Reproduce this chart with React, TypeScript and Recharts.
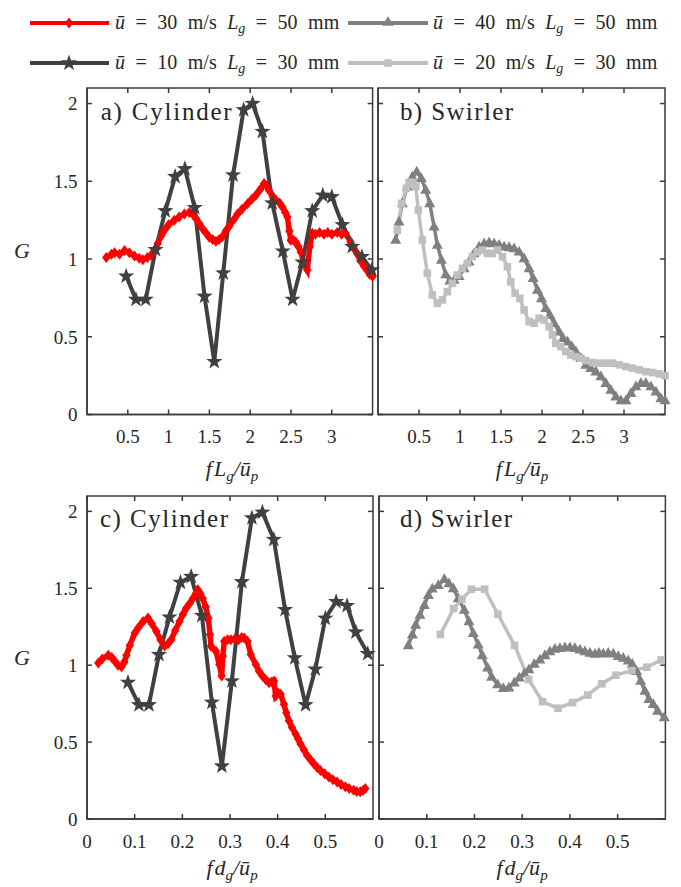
import React from 'react';
import { LineChart, Line, XAxis, YAxis, ReferenceArea, ReferenceLine } from 'recharts';

// ---------- tick labels ----------
const fLTicks = [0.5, 1, 1.5, 2, 2.5, 3];
const fdTicks = [0, 0.1, 0.2, 0.3, 0.4, 0.5];
const gTicks = [0, 0.5, 1, 1.5, 2];

// ---------- series names ----------
const seriesNames = [
  { u: '30', L: '50' },
  { u: '40', L: '50' },
  { u: '10', L: '30' },
  { u: '20', L: '30' },
];

// ---------- a) Cylinder, x = f Lg / up ----------
const redA_x = [0.236, 0.30, 0.337, 0.40, 0.46, 0.52, 0.582, 0.64, 0.684, 0.74, 0.785, 0.83, 0.867, 0.91, 0.948, 1.0, 1.07, 1.13, 1.193, 1.254, 1.30, 1.336, 1.38, 1.417, 1.46, 1.498, 1.54, 1.58, 1.62, 1.662, 1.70, 1.743, 1.80, 1.845, 1.90, 1.967, 2.02, 2.069, 2.12, 2.17, 2.20, 2.232, 2.28, 2.314, 2.36, 2.395, 2.43, 2.456, 2.48, 2.497, 2.53, 2.558, 2.59, 2.62, 2.66, 2.70, 2.73, 2.76, 2.80, 2.85, 2.904, 2.95, 3.0, 3.067, 3.12, 3.17, 3.23, 3.27, 3.31, 3.35, 3.393, 3.43, 3.466, 3.5];
const redA_G = [1.01, 1.03, 1.04, 1.03, 1.055, 1.04, 1.02, 1.005, 0.995, 1.01, 1.025, 1.06, 1.10, 1.15, 1.185, 1.22, 1.25, 1.27, 1.29, 1.30, 1.285, 1.26, 1.225, 1.195, 1.165, 1.14, 1.125, 1.115, 1.125, 1.145, 1.18, 1.21, 1.255, 1.29, 1.32, 1.355, 1.385, 1.41, 1.445, 1.485, 1.47, 1.44, 1.40, 1.38, 1.36, 1.335, 1.30, 1.27, 1.18, 1.12, 1.12, 1.11, 1.08, 1.045, 0.97, 0.93, 1.08, 1.165, 1.16, 1.17, 1.16, 1.17, 1.16, 1.17, 1.16, 1.165, 1.11, 1.07, 1.035, 0.99, 0.955, 0.93, 0.90, 0.89];
const starA_x = [0.48, 0.60, 0.72, 0.84, 0.96, 1.08, 1.20, 1.32, 1.44, 1.56, 1.67, 1.79, 1.92, 2.03, 2.15, 2.27, 2.40, 2.52, 2.64, 2.76, 2.89, 3.00, 3.13, 3.25, 3.37, 3.49];
const starA_G = [0.89, 0.74, 0.74, 1.06, 1.31, 1.53, 1.58, 1.33, 0.76, 0.34, 0.91, 1.54, 1.96, 2.00, 1.82, 1.36, 1.05, 0.74, 0.98, 1.31, 1.41, 1.40, 1.22, 1.08, 1.015, 0.93];

// ---------- b) Swirler, x = f Lg / up ----------
const triB_x = [0.216, 0.256, 0.297, 0.358, 0.419, 0.472, 0.529, 0.582, 0.631, 0.684, 0.724, 0.773, 0.826, 0.875, 0.928, 0.989, 1.05, 1.11, 1.17, 1.233, 1.294, 1.355, 1.416, 1.477, 1.538, 1.599, 1.66, 1.721, 1.782, 1.843, 1.892, 1.945, 1.994, 2.047, 2.095, 2.148, 2.209, 2.258, 2.311, 2.364, 2.413, 2.474, 2.535, 2.596, 2.657, 2.718, 2.779, 2.84, 2.901, 2.962, 3.023, 3.084, 3.145, 3.206, 3.267, 3.328, 3.389, 3.45, 3.5];
const triB_G = [1.122, 1.24, 1.358, 1.465, 1.529, 1.561, 1.518, 1.444, 1.358, 1.208, 1.09, 0.994, 0.90, 0.86, 0.865, 0.89, 0.94, 0.983, 1.036, 1.079, 1.1, 1.107, 1.1, 1.09, 1.079, 1.075, 1.068, 1.047, 1.004, 0.94, 0.876, 0.801, 0.747, 0.683, 0.64, 0.587, 0.533, 0.49, 0.469, 0.437, 0.405, 0.362, 0.319, 0.298, 0.276, 0.244, 0.201, 0.158, 0.115, 0.09, 0.09, 0.137, 0.18, 0.201, 0.201, 0.18, 0.147, 0.104, 0.09];
const sqB_x = [0.236, 0.289, 0.346, 0.379, 0.427, 0.46, 0.492, 0.541, 0.602, 0.663, 0.724, 0.785, 0.846, 0.907, 0.968, 1.03, 1.09, 1.151, 1.212, 1.273, 1.334, 1.395, 1.456, 1.517, 1.578, 1.619, 1.672, 1.729, 1.782, 1.843, 1.904, 1.965, 2.026, 2.087, 2.128, 2.169, 2.23, 2.291, 2.352, 2.413, 2.474, 2.535, 2.616, 2.698, 2.779, 2.86, 2.942, 3.023, 3.104, 3.186, 3.267, 3.348, 3.43, 3.5];
const sqB_G = [1.186, 1.358, 1.454, 1.493, 1.493, 1.465, 1.315, 1.122, 0.908, 0.769, 0.715, 0.737, 0.79, 0.844, 0.897, 0.94, 0.972, 1.015, 1.047, 1.058, 1.036, 1.036, 1.058, 1.015, 0.951, 0.854, 0.78, 0.747, 0.672, 0.597, 0.587, 0.619, 0.608, 0.565, 0.512, 0.458, 0.437, 0.405, 0.383, 0.372, 0.362, 0.347, 0.334, 0.33, 0.33, 0.33, 0.319, 0.308, 0.298, 0.287, 0.276, 0.27, 0.261, 0.25];

// ---------- c) Cylinder, x = f dg / up ----------
const redC_x = [0.0237, 0.032, 0.0445, 0.052, 0.0584, 0.065, 0.0723, 0.0783, 0.0828, 0.09, 0.1002, 0.108, 0.1176, 0.128, 0.136, 0.1454, 0.154, 0.1628, 0.17, 0.1767, 0.185, 0.1941, 0.201, 0.208, 0.215, 0.222, 0.228, 0.2324, 0.238, 0.2428, 0.249, 0.2546, 0.258, 0.2602, 0.2706, 0.2776, 0.2825, 0.285, 0.288, 0.295, 0.3019, 0.31, 0.318, 0.3245, 0.3297, 0.3367, 0.3436, 0.3541, 0.361, 0.368, 0.375, 0.3819, 0.3875, 0.3923, 0.3958, 0.401, 0.4063, 0.4132, 0.418, 0.4237, 0.43, 0.4376, 0.443, 0.448, 0.455, 0.4619, 0.469, 0.4758, 0.4828, 0.4898, 0.4985, 0.5072, 0.516, 0.5246, 0.533, 0.542, 0.55, 0.5594, 0.566, 0.5733, 0.579, 0.5838];
const redC_G = [1.015, 1.04, 1.065, 1.05, 1.026, 1.0, 0.99, 1.02, 1.065, 1.13, 1.21, 1.245, 1.284, 1.306, 1.27, 1.22, 1.165, 1.125, 1.14, 1.166, 1.225, 1.284, 1.33, 1.37, 1.40, 1.434, 1.465, 1.49, 1.465, 1.434, 1.38, 1.306, 1.2, 1.123, 1.09, 1.004, 0.929, 1.06, 1.155, 1.165, 1.166, 1.17, 1.165, 1.18, 1.176, 1.155, 1.069, 1.004, 0.96, 0.929, 0.905, 0.886, 0.89, 0.897, 0.80, 0.82, 0.811, 0.746, 0.69, 0.639, 0.595, 0.553, 0.52, 0.488, 0.45, 0.413, 0.385, 0.359, 0.335, 0.316, 0.295, 0.273, 0.255, 0.241, 0.225, 0.209, 0.198, 0.187, 0.178, 0.177, 0.185, 0.198];
const starC_x = [0.086, 0.109, 0.130, 0.151, 0.173, 0.196, 0.2185, 0.241, 0.262, 0.283, 0.304, 0.325, 0.346, 0.368, 0.392, 0.4155, 0.436, 0.4586, 0.479, 0.500, 0.5226, 0.5456, 0.564, 0.589];
const starC_G = [0.888, 0.742, 0.742, 1.069, 1.312, 1.538, 1.576, 1.323, 0.759, 0.344, 0.897, 1.542, 1.957, 1.994, 1.817, 1.361, 1.047, 0.742, 0.974, 1.305, 1.413, 1.387, 1.215, 1.075];

// ---------- d) Swirler, x = f dg / up ----------
const triD_x = [0.0615, 0.0699, 0.0768, 0.0859, 0.095, 0.1034, 0.1117, 0.1243, 0.1368, 0.1466, 0.1557, 0.1661, 0.1787, 0.1885, 0.1975, 0.208, 0.2164, 0.2276, 0.2359, 0.2485, 0.2604, 0.2722, 0.2834, 0.2939, 0.3043, 0.3141, 0.3253, 0.3371, 0.3476, 0.3581, 0.3686, 0.3791, 0.3895, 0.4, 0.4105, 0.421, 0.4314, 0.4419, 0.4524, 0.4608, 0.4698, 0.4803, 0.4908, 0.5013, 0.5118, 0.5222, 0.5306, 0.5397, 0.5481, 0.5572, 0.5655, 0.5746, 0.5837, 0.5976];
const triD_G = [1.129, 1.198, 1.262, 1.327, 1.39, 1.455, 1.497, 1.52, 1.559, 1.531, 1.499, 1.434, 1.359, 1.284, 1.208, 1.133, 1.064, 0.983, 0.923, 0.875, 0.85, 0.854, 0.886, 0.918, 0.944, 0.972, 1.008, 1.035, 1.064, 1.089, 1.106, 1.11, 1.115, 1.115, 1.11, 1.1, 1.089, 1.079, 1.073, 1.079, 1.075, 1.079, 1.075, 1.058, 1.047, 1.03, 1.008, 0.961, 0.897, 0.832, 0.779, 0.746, 0.703, 0.66];
const sqD_x = [0.1285, 0.1564, 0.1738, 0.1934, 0.2213, 0.2492, 0.2841, 0.3134, 0.3427, 0.3748, 0.4055, 0.4376, 0.4669, 0.4962, 0.5297, 0.5611, 0.591];
const sqD_G = [1.2, 1.368, 1.43, 1.494, 1.494, 1.331, 1.129, 0.907, 0.763, 0.72, 0.757, 0.806, 0.879, 0.935, 0.965, 0.987, 1.034];

// ---------- styles ----------
const AX = '#3a3a3a';
const TXT = '#262626';
const FONT = '"Liberation Serif", "Times New Roman", serif';
const RED = '#ff0000';
const MID = '#808080';
const DARK = '#404040';
const LIGHT = '#bfbfbf';
const G_MAX = 2.1;

const zip = (xs: number[], gs: number[]) => xs.map((x, i) => ({ x, G: gs[i] }));

const Diamond = ({ cx, cy }: any) => (
  <path d={`M${cx},${cy - 5.5}L${cx + 4.2},${cy}L${cx},${cy + 5.5}L${cx - 4.2},${cy}Z`} fill={RED} />
);
const Star = ({ cx, cy, size = 8.5 }: any) => {
  const pts: string[] = [];
  for (let k = 0; k < 10; k++) {
    const r = k % 2 === 0 ? size : size * 0.4;
    const a = -Math.PI / 2 + (k * Math.PI) / 5;
    pts.push(`${cx + r * Math.cos(a)},${cy + r * Math.sin(a)}`);
  }
  return <polygon points={pts.join(' ')} fill={DARK} />;
};
const Tri = ({ cx, cy }: any) => (
  <path d={`M${cx},${cy - 6}L${cx + 5.5},${cy + 3.8}L${cx - 5.5},${cy + 3.8}Z`} fill={MID} />
);
const Sq = ({ cx, cy }: any) => <rect x={cx - 3.8} y={cy - 3.8} width={7.6} height={7.6} fill={LIGHT} />;

const dotFn = (Comp: any, tag: string) => (p: any) => <Comp key={`${tag}${p.index}`} cx={p.cx} cy={p.cy} />;

type SeriesDef = { data: { x: number; G: number }[]; color: string; width: number; marker: any; tag: string };

function Panel({ left, top, w, h, xDomain, xTicks, showY, series }: {
  left: number; top: number; w: number; h: number; xDomain: [number, number]; xTicks: number[]; showY: boolean; series: SeriesDef[];
}) {
  const ML = 60, MB = 45, MT = 8, MR = 8;
  const tickStyle = { fontSize: 19, fill: TXT, fontFamily: FONT };
  const xMax = xDomain[1];
  const tickPx = 5;
  const dyTick = (tickPx * G_MAX) / h;
  const dxTick = (tickPx * (xMax - xDomain[0])) / w;
  return (
    <div style={{ position: 'absolute', left: left - ML, top: top - MT }}>
      <LineChart width={ML + w + MR} height={MT + h + MB} margin={{ top: MT, right: MR, left: 0, bottom: 0 }}>
        <XAxis dataKey="x" type="number" domain={xDomain} ticks={xTicks} height={MB}
          stroke={AX} strokeWidth={1.5} tickSize={-5} tickMargin={20.5} tick={tickStyle} interval={0} />
        <YAxis type="number" domain={[0, G_MAX]} ticks={gTicks} width={ML} stroke={AX} strokeWidth={1.5}
          tickSize={-5} tickMargin={14.4} tick={tickStyle} interval={0}
          tickFormatter={showY ? (v: number) => String(v) : () => ''} />
        <ReferenceArea x1={xDomain[0]} x2={xMax} y1={0} y2={G_MAX} fill="none" fillOpacity={0}
          stroke={AX} strokeWidth={1.5} ifOverflow="visible" />
        {xTicks.map((t) => (
          <ReferenceLine key={`tt${t}`} segment={[{ x: t, y: G_MAX }, { x: t, y: G_MAX - dyTick }]}
            stroke={AX} strokeWidth={1.5} ifOverflow="visible" />
        ))}
        {gTicks.map((t) => (
          <ReferenceLine key={`rt${t}`} segment={[{ x: xMax, y: t }, { x: xMax - dxTick, y: t }]}
            stroke={AX} strokeWidth={1.5} ifOverflow="visible" />
        ))}
        {series.map((s) => (
          <Line key={s.tag} data={s.data} dataKey="G" type="linear" stroke={s.color} strokeWidth={s.width}
            dot={dotFn(s.marker, s.tag)} activeDot={false} isAnimationActive={false} />
        ))}
      </LineChart>
    </div>
  );
}

const GAP = 10.5;
const LegendText = ({ x, y, u, L }: any) => (
  <text x={x} y={y} fontSize={20} fontFamily={FONT} fill={TXT}>
    <tspan fontStyle="italic">ū</tspan>
    <tspan dx={GAP}>=</tspan>
    <tspan dx={GAP}>{u}</tspan>
    <tspan dx={GAP}>m/s</tspan>
    <tspan dx={GAP} fontStyle="italic">L</tspan>
    <tspan fontStyle="italic" fontSize={14} dy={4}>g</tspan>
    <tspan dy={-4} dx={GAP}>=</tspan>
    <tspan dx={GAP}>{L}</tspan>
    <tspan dx={GAP}>mm</tspan>
  </text>
);

const XLabel = ({ cx, y, sym }: any) => (
  <text x={cx} y={y} textAnchor="middle" fontSize={22} fontFamily={FONT} fill={TXT} fontStyle="italic">
    f<tspan dx={2}>{sym}</tspan>
    <tspan fontSize={15} dy={5}>g</tspan>
    <tspan dy={-5}>/ū</tspan>
    <tspan fontSize={15} dy={5}>p</tspan>
  </text>
);

export default function App() {
  const sA: SeriesDef[] = [
    { data: zip(redA_x, redA_G), color: RED, width: 5.5, marker: Diamond, tag: 'ra' },
    { data: zip(starA_x, starA_G), color: DARK, width: 4, marker: Star, tag: 'sa' },
  ];
  const sB: SeriesDef[] = [
    { data: zip(triB_x, triB_G), color: MID, width: 3.5, marker: Tri, tag: 'tb' },
    { data: zip(sqB_x, sqB_G), color: LIGHT, width: 3.5, marker: Sq, tag: 'qb' },
  ];
  const sC: SeriesDef[] = [
    { data: zip(redC_x, redC_G), color: RED, width: 5.5, marker: Diamond, tag: 'rc' },
    { data: zip(starC_x, starC_G), color: DARK, width: 4, marker: Star, tag: 'sc' },
  ];
  const sD: SeriesDef[] = [
    { data: zip(triD_x, triD_G), color: MID, width: 3.5, marker: Tri, tag: 'td' },
    { data: zip(sqD_x, sqD_G), color: LIGHT, width: 3.5, marker: Sq, tag: 'qd' },
  ];
  return (
    <div style={{ position: 'absolute', left: 0, top: 0, width: 681, height: 887, background: '#fff', overflow: 'hidden' }}>
      <Panel left={87.4} top={88} w={285.6} h={326.5} xDomain={[0, 3.5]} xTicks={fLTicks} showY series={sA} />
      <Panel left={378.3} top={88} w={287} h={326.5} xDomain={[0, 3.5]} xTicks={fLTicks} showY={false} series={sB} />
      <Panel left={87} top={496} w={286} h={323} xDomain={[0, 0.6]} xTicks={fdTicks} showY series={sC} />
      <Panel left={378.9} top={496} w={286.4} h={323} xDomain={[0, 0.6]} xTicks={fdTicks} showY={false} series={sD} />
      <svg width={681} height={887} style={{ position: 'absolute', left: 0, top: 0, pointerEvents: 'none' }}>
        {/* legend */}
        <line x1={30} x2={109} y1={23} y2={23} stroke={RED} strokeWidth={4} />
        <Diamond cx={69} cy={23} />
        <LegendText x={115} y={29} u={seriesNames[0].u} L={seriesNames[0].L} />
        <line x1={348} x2={428} y1={23} y2={23} stroke={MID} strokeWidth={4} />
        <Tri cx={388} cy={22} />
        <LegendText x={433} y={29} u={seriesNames[1].u} L={seriesNames[1].L} />
        <line x1={30} x2={109} y1={63} y2={63} stroke={DARK} strokeWidth={4} />
        <Star cx={69} cy={63} />
        <LegendText x={115} y={69} u={seriesNames[2].u} L={seriesNames[2].L} />
        <line x1={348} x2={428} y1={63} y2={63} stroke={LIGHT} strokeWidth={4} />
        <Sq cx={388} cy={63} />
        <LegendText x={433} y={69} u={seriesNames[3].u} L={seriesNames[3].L} />
        {/* panel titles */}
        <text x={100.7} y={120} fontSize={25} fontFamily={FONT} fill={TXT} textLength={131} lengthAdjust="spacing">a) Cylinder</text>
        <text x={400} y={120} fontSize={25} fontFamily={FONT} fill={TXT} textLength={113} lengthAdjust="spacing">b) Swirler</text>
        <text x={100} y={527} fontSize={25} fontFamily={FONT} fill={TXT} textLength={128} lengthAdjust="spacing">c) Cylinder</text>
        <text x={400} y={527} fontSize={25} fontFamily={FONT} fill={TXT} textLength={112} lengthAdjust="spacing">d) Swirler</text>
        {/* axis labels */}
        <text x={22} y={258} textAnchor="middle" fontSize={22} fontFamily={FONT} fontStyle="italic" fill={TXT}>G</text>
        <text x={22} y={665} textAnchor="middle" fontSize={22} fontFamily={FONT} fontStyle="italic" fill={TXT}>G</text>
        <XLabel cx={232} y={476} sym="L" />
        <XLabel cx={522} y={476} sym="L" />
        <XLabel cx={232} y={875} sym="d" />
        <XLabel cx={522} y={875} sym="d" />
      </svg>
    </div>
  );
}
